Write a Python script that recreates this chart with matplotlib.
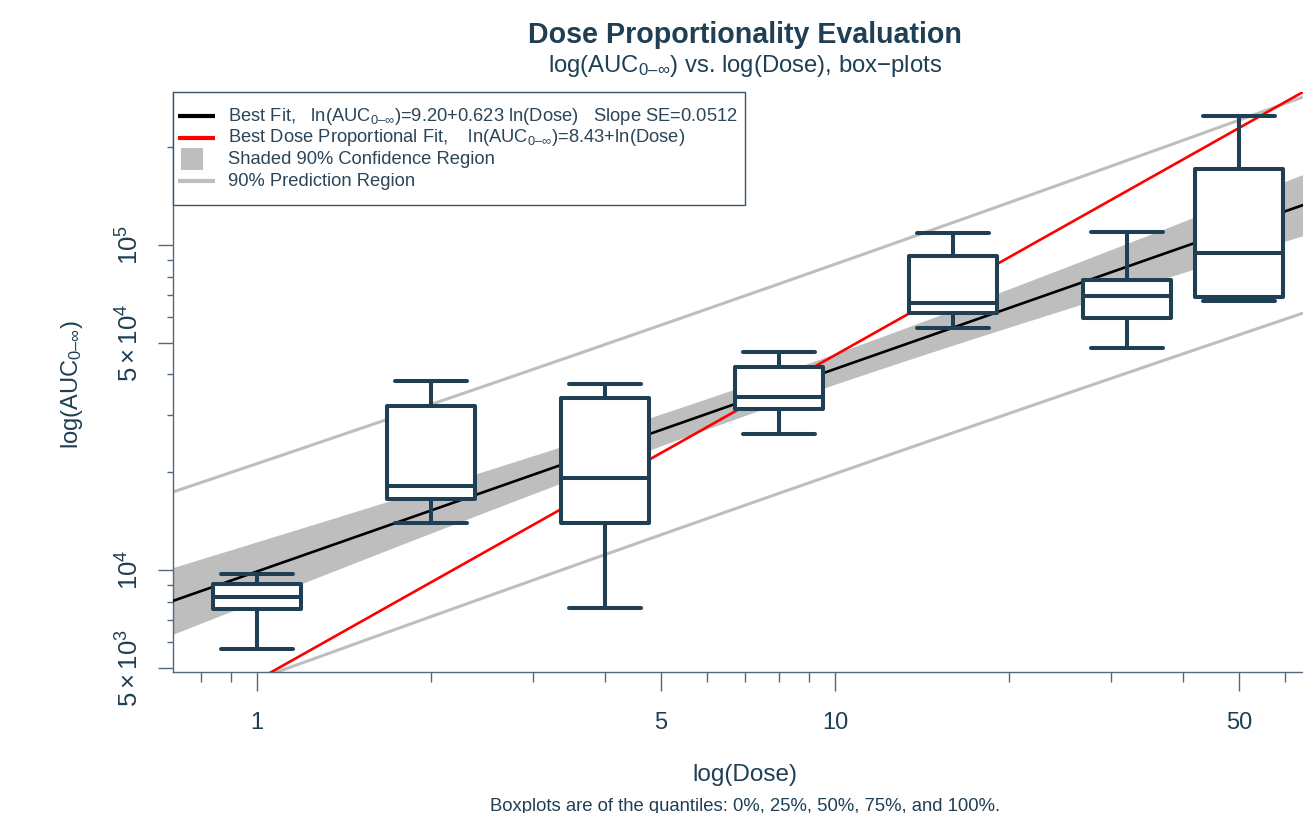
import numpy as np
import matplotlib
matplotlib.use('Agg')
import matplotlib.pyplot as plt
from matplotlib.patches import Rectangle
from matplotlib.lines import Line2D
from matplotlib.ticker import NullFormatter

# ---------------- data ----------------
doses = [1, 2, 4, 8, 16, 32, 50]
auc_min = [5702, 13920, 7656, 26160, 55420, 48120, 67390]
auc_q1 = [7570, 16500, 13920, 31220, 61640, 59500, 69320]
auc_med = [8241, 18170, 19150, 34140, 66160, 69670, 94690]
auc_q3 = [9036, 32030, 33760, 42050, 92500, 78050, 171000]
auc_max = [9700, 38240, 37270, 46960, 109100, 109900, 249900]

# fit parameters (from legend)
fit_intercept = 9.20
fit_slope = 0.623
slope_se = 0.0512
dp_intercept = 8.43
# band parameters
ln_center = 2.04       # ln(dose) where CI is narrowest
se_center = 0.0608     # SE of fit at centre (ln units)
resid_sd = 0.422       # residual SD (ln units)
t_crit = 1.74

x_major = [1, 5, 10, 50]
x_major_labels = ['1', '5', '10', '50']
x_minor = [0.8, 0.9, 2, 3, 4, 6, 7, 8, 9, 20, 30, 40, 60]
y_major = [5000, 10000, 50000, 100000]
y_major_labels = [r'$5\times10^3$', r'$10^4$', r'$5\times10^4$', r'$10^5$']
y_minor = [6000, 7000, 8000, 9000, 20000, 30000, 40000,
           60000, 70000, 80000, 90000, 200000]

SUB = '$_{0\u2013\\infty}$'
legend_labels = [
    'Best Fit,   ln(AUC' + SUB + ')=9.20+0.623 ln(Dose)   Slope SE=0.0512',
    'Best Dose Proportional Fit,    ln(AUC' + SUB + ')=8.43+ln(Dose)',
    'Shaded 90% Confidence Region',
    '90% Prediction Region',
]

# ---------------- style ----------------
plt.rcParams['font.family'] = ['Liberation Sans', 'DejaVu Sans']
plt.rcParams['mathtext.fontset'] = 'custom'
plt.rcParams['mathtext.rm'] = 'Liberation Sans'
plt.rcParams['mathtext.it'] = 'Liberation Sans:italic'
plt.rcParams['mathtext.bf'] = 'Liberation Sans:bold'

NAVY = '#1e3f54'
SPINE = '#53687a'
TXT = '#2b4558'
GRAY = '#bebebe'

W, H = 1303, 813
fig = plt.figure(figsize=(W / 100, H / 100), dpi=100)
ax = fig.add_axes([173 / W, 141 / H, 1144 / W, 580 / H])
ax.set_xscale('log')
ax.set_yscale('log')
xlo, xhi = 10 ** -0.1453, 10 ** 1.8339
ax.set_xlim(xlo, xhi)
ax.set_ylim(10 ** 3.6862, 10 ** 5.4708)

# ---------------- regression lines / bands ----------------
xs = np.logspace(np.log10(xlo), np.log10(xhi), 300)
lx = np.log(xs)
fit = fit_intercept + fit_slope * lx
se_fit = np.sqrt(se_center ** 2 + (slope_se * (lx - ln_center)) ** 2)
ci = t_crit * se_fit
pi = t_crit * np.sqrt(resid_sd ** 2 + se_fit ** 2)

ax.fill_between(xs, np.exp(fit - ci), np.exp(fit + ci), color=GRAY, lw=0, zorder=1)
ax.plot(xs, np.exp(fit + pi), color=GRAY, lw=2.2, zorder=2)
ax.plot(xs, np.exp(fit - pi), color=GRAY, lw=2.2, zorder=2)
ax.plot(xs, np.exp(fit), color='black', lw=1.9, zorder=3)
ax.plot(xs, np.exp(dp_intercept + lx), color='#ff0000', lw=1.9, zorder=3)

# ---------------- box plots ----------------
half_box = 10 ** 0.0753
half_cap = 10 ** (0.0753 * 0.82)
blw = 2.9
for d, mn, q1, md, q3, mx in zip(doses, auc_min, auc_q1, auc_med, auc_q3, auc_max):
    x0, x1 = d / half_box, d * half_box
    c0, c1 = d / half_cap, d * half_cap
    ax.plot([d, d], [q3, mx], color=NAVY, lw=blw, zorder=4, solid_capstyle='butt')
    ax.plot([d, d], [mn, q1], color=NAVY, lw=blw, zorder=4, solid_capstyle='butt')
    ax.plot([c0, c1], [mx, mx], color=NAVY, lw=blw, zorder=4, solid_capstyle='round')
    ax.plot([c0, c1], [mn, mn], color=NAVY, lw=blw, zorder=4, solid_capstyle='round')
    ax.add_patch(Rectangle((x0, q1), x1 - x0, q3 - q1, facecolor='white',
                           edgecolor=NAVY, lw=blw, joinstyle='round', zorder=5))
    ax.plot([x0, x1], [md, md], color=NAVY, lw=blw, zorder=6, solid_capstyle='butt')

# ---------------- axes ----------------
for s in ['top', 'right']:
    ax.spines[s].set_visible(False)
for s in ['left', 'bottom']:
    ax.spines[s].set_color(SPINE)
    ax.spines[s].set_linewidth(1.0)

ax.set_xticks(x_major)
ax.set_xticklabels(x_major_labels)
ax.set_xticks(x_minor, minor=True)
ax.xaxis.set_minor_formatter(NullFormatter())
ax.set_yticks(y_major)
ax.set_yticklabels(y_major_labels, rotation=90, va='center')
ax.set_yticks(y_minor, minor=True)
ax.yaxis.set_minor_formatter(NullFormatter())

ax.tick_params(axis='x', which='major', length=14, width=1, color=SPINE,
               pad=15, labelsize=17, labelcolor=NAVY)
ax.tick_params(axis='x', which='minor', length=7, width=1, color=SPINE)
ax.tick_params(axis='y', which='major', length=11, width=1, color=SPINE,
               pad=10, labelsize=18.5, labelcolor=NAVY)
ax.tick_params(axis='y', which='minor', length=4.5, width=1, color=SPINE)

# ---------------- text ----------------
cx = 745 / W
fig.text(cx, 1 - 35 / H, 'Dose Proportionality Evaluation', ha='center', va='center',
         fontsize=20.6, fontweight='bold', color=NAVY)
fig.text(cx, 1 - 66 / H, 'log(AUC' + SUB + ') vs. log(Dose), box\u2212plots',
         ha='center', va='center', fontsize=17.2, color=NAVY)
fig.text(cx, 1 - 775 / H, 'log(Dose)', ha='center', va='center', fontsize=17.5, color=NAVY)
fig.text(cx, 1 - 806 / H, 'Boxplots are of the quantiles: 0%, 25%, 50%, 75%, and 100%.',
         ha='center', va='center', fontsize=13.3, color=NAVY)
fig.text(72 / W, 1 - 385 / H, 'log(AUC' + SUB + ')', ha='center', va='center',
         rotation=90, fontsize=17, color=NAVY)

# ---------------- legend (drawn in figure pixels) ----------------
def fx(px):
    return px / W


def fy(py):
    return 1 - py / H


fig.patches.append(Rectangle((fx(173), fy(205)), (745 - 173) / W, (205 - 92) / H,
                             transform=fig.transFigure, facecolor='white',
                             edgecolor='#3d5566', lw=1.0, zorder=10))
row_y = [116, 138, 159, 181]
handle_styles = [
    dict(color='black', lw=3),
    dict(color='#ff0000', lw=3),
    None,
    dict(color=GRAY, lw=3),
]
for yy, lab, st in zip(row_y, legend_labels, handle_styles):
    if st is None:
        fig.patches.append(Rectangle((fx(181), fy(yy + 11)), 22 / W, 22 / H,
                                     transform=fig.transFigure, facecolor=GRAY,
                                     edgecolor='none', zorder=11))
    else:
        fig.add_artist(Line2D([fx(178), fx(215)], [fy(yy), fy(yy)],
                              transform=fig.transFigure, zorder=11,
                              solid_capstyle='butt', **st))
    fig.text(fx(228), fy(yy), lab, ha='left', va='center', fontsize=13.2,
             color=TXT, zorder=12)

fig.savefig('out.png', dpi=100)
